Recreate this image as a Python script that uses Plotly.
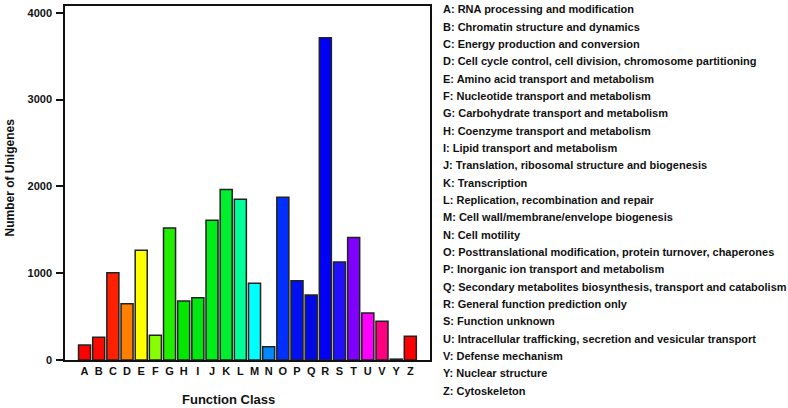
import plotly.graph_objects as go

categories = ["A", "B", "C", "D", "E", "F", "G", "H", "I", "J", "K", "L",
              "M", "N", "O", "P", "Q", "R", "S", "T", "U", "V", "Y", "Z"]
counts = [172, 263, 1004, 649, 1263, 286, 1520, 679, 718, 1611, 1965, 1852,
          885, 152, 1875, 913, 748, 3711, 1130, 1412, 542, 447, 10, 275]
bar_colors = ["#FF0000", "#FF0800", "#FF2000", "#FF8000", "#FFFF00", "#88FF00",
              "#22EE00", "#00E800", "#00E810", "#00EC1A", "#00EE30", "#00FF99",
              "#00FFFF", "#0088FF", "#0030FF", "#0010F0", "#0008E8", "#0000F8",
              "#2010FF", "#8000FF", "#FF00FF", "#FF0080", "#FF0044", "#FF0000"]
legend_labels = [
    "A: RNA processing and modification",
    "B: Chromatin structure and dynamics",
    "C: Energy production and conversion",
    "D: Cell cycle control, cell division, chromosome partitioning",
    "E: Amino acid transport and metabolism",
    "F: Nucleotide transport and metabolism",
    "G: Carbohydrate transport and metabolism",
    "H: Coenzyme transport and metabolism",
    "I: Lipid transport and metabolism",
    "J: Translation, ribosomal structure and biogenesis",
    "K: Transcription",
    "L: Replication, recombination and repair",
    "M: Cell wall/membrane/envelope biogenesis",
    "N: Cell motility",
    "O: Posttranslational modification, protein turnover, chaperones",
    "P: Inorganic ion transport and metabolism",
    "Q: Secondary metabolites biosynthesis, transport and catabolism",
    "R: General function prediction only",
    "S: Function unknown",
    "U: Intracellular trafficking, secretion and vesicular transport",
    "V: Defense mechanism",
    "Y: Nuclear structure",
    "Z: Cytoskeleton",
]
y_ticks = [0, 1000, 2000, 3000, 4000]

FONT = "Liberation Sans, Arial, sans-serif"

fig = go.Figure(go.Bar(
    x=categories, y=counts,
    marker=dict(color=bar_colors, line=dict(color="#222222", width=1.5)),
    width=0.85,
))

W, H = 788, 408
L, R, T, B = 65, 430, 4, 360
pw, ph = R - L, B - T

annotations = []
y0 = 7.3
step = 17.44
for i, txt in enumerate(legend_labels):
    ypx = y0 + i * step
    annotations.append(dict(
        text=txt, xref="paper", yref="paper",
        x=(440.5 - L) / pw, y=(B - ypx) / ph,
        xanchor="left", yanchor="middle", showarrow=False,
        font=dict(family=FONT, size=11, color="#111111", weight="bold"),
    ))
annotations.append(dict(
    text="Function Class", xref="paper", yref="paper",
    x=(228.3 - L) / pw, y=(B - 400) / ph,
    xanchor="center", yanchor="middle", showarrow=False,
    font=dict(family=FONT, size=13, color="#111111", weight="bold"),
))
annotations.append(dict(
    text="Number of Unigenes", xref="paper", yref="paper",
    x=(10 - L) / pw, y=(B - 176.5) / ph, textangle=-90,
    xanchor="center", yanchor="middle", showarrow=False,
    font=dict(family=FONT, size=12, color="#111111", weight="bold"),
))

fig.update_layout(
    width=W, height=H,
    margin=dict(l=L, r=W - R, t=T, b=H - B, pad=0),
    paper_bgcolor="white", plot_bgcolor="white",
    showlegend=False,
    annotations=annotations,
    font=dict(family=FONT, color="#111111"),
)
fig.update_xaxes(
    range=[-1.38, 24.39],
    showline=True, mirror=True, linecolor="#111111", linewidth=1.5,
    ticks="", showgrid=False, zeroline=False,
    tickfont=dict(family=FONT, size=11, color="#111111", weight="bold"),
)
fig.update_yaxes(
    range=[0, 4078],
    tickvals=y_ticks, ticktext=[str(v) for v in y_ticks],
    showline=True, mirror=True, linecolor="#111111", linewidth=1.5,
    ticks="outside", ticklen=7, tickwidth=1.5, tickcolor="#111111",
    showgrid=False, zeroline=False, ticklabelstandoff=2,
    tickfont=dict(family=FONT, size=11, color="#111111", weight="bold"),
)

fig.write_html(
    "out.html",
    config={"displayModeBar": False},
    post_script="document.body.style.margin='0';document.body.style.padding='0';",
)
